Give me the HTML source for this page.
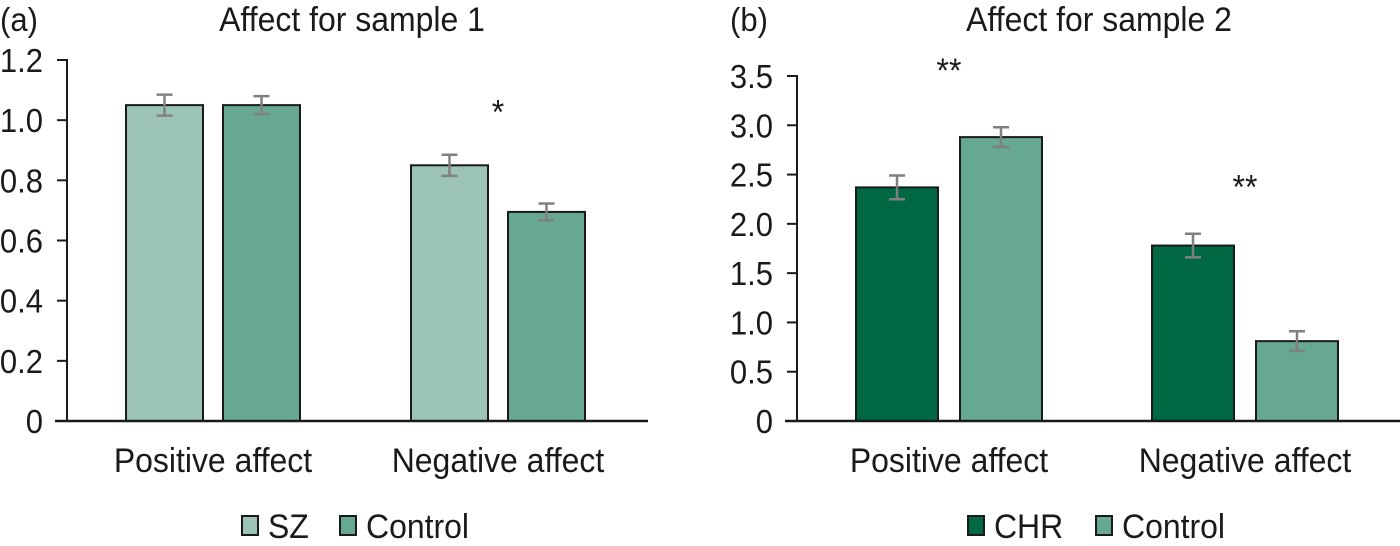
<!DOCTYPE html>
<html><head><meta charset="utf-8"><style>
html,body{margin:0;padding:0;background:#fff;}
svg{display:block;font-family:"Liberation Sans",sans-serif;}
</style></head><body>
<svg id="chart" width="1400" height="546" viewBox="0 0 1400 546"></svg>
<script>
const categories = ["Positive affect", "Negative affect"];
const seriesA = ["SZ", "Control"];
const valuesA_SZ = [1.05, 0.85];
const valuesA_Control = [1.05, 0.695];
const errA_SZ = [0.035, 0.035];
const errA_Control = [0.03, 0.028];
const ticksA = [0, 0.2, 0.4, 0.6, 0.8, 1.0, 1.2];
const tickLabelsA = ["0", "0.2", "0.4", "0.6", "0.8", "1.0", "1.2"];
const sigA = ["", "*"];

const seriesB = ["CHR", "Control"];
const valuesB_CHR = [2.37, 1.78];
const valuesB_Control = [2.88, 0.81];
const errB_CHR = [0.12, 0.12];
const errB_Control = [0.1, 0.1];
const ticksB = [0, 0.5, 1.0, 1.5, 2.0, 2.5, 3.0, 3.5];
const tickLabelsB = ["0", "0.5", "1.0", "1.5", "2.0", "2.5", "3.0", "3.5"];
const sigB = ["**", "**"];

const svg = document.getElementById('chart');
const NS = 'http://www.w3.org/2000/svg';
const SX = 0.94;
function mk(tag, attrs, parent) {
  const e = document.createElementNS(NS, tag);
  for (const k in attrs) e.setAttribute(k, attrs[k]);
  (parent || svg).appendChild(e);
  return e;
}
function txt(x, y, s, size, anchor, parent) {
  const t = mk('text', {x: x / SX, y: y, 'font-size': size, 'text-anchor': anchor, fill: '#1a1a1a', transform: `scale(${SX},1)`}, parent);
  t.textContent = s;
  return t;
}

function panel(cfg) {
  const g = mk('g', {});
  
  
  const y = v => cfg.y0 - (v / cfg.max) * (cfg.y0 - cfg.yTop);
  const lt = txt(cfg.letterX, 31, cfg.letter, 33, 'start', g);
  
  
  const tt = txt(cfg.titleX, 31, cfg.title, 34, 'middle', g);
  
  
  cfg.groupStarts.forEach((gx, i) => {
    [[cfg.v1, cfg.e1, cfg.c1, cfg.s[0]], [cfg.v2, cfg.e2, cfg.c2, cfg.s[1]]].forEach((sd, j) => {
      const x = gx + j * (cfg.barW + cfg.gap);
      const v = sd[0][i];
      const r = mk('rect', {x: x, y: y(v), width: cfg.barW, height: cfg.y0 - y(v), fill: sd[2], stroke: '#1a1a1a', 'stroke-width': 2}, g);
      
      
      const cx = x + cfg.barW / 2, e = sd[1][i];
      const eb = mk('path', {d: `M${cx},${y(v + e)}V${y(v - e)}M${cx - 8},${y(v + e)}H${cx + 8}M${cx - 8},${y(v - e)}H${cx + 8}`, stroke: '#808080', 'stroke-width': 2.5, fill: 'none'}, g);
      
      
    });
    const catC = gx + cfg.barW + cfg.gap / 2;
    const cl = txt(catC, 472, categories[i], 34, 'middle', g);
    
    
    if (cfg.sig[i]) {
      const top = Math.max(cfg.v1[i] + cfg.e1[i], cfg.v2[i] + cfg.e2[i]);
      const st = txt(catC, y(top) - cfg.sigOff[i] + 20, cfg.sig[i], 34, 'middle', g);
      
      
    }
  });
  const ya = mk('line', {x1: cfg.axX, y1: cfg.yTop - 1, x2: cfg.axX, y2: cfg.y0, stroke: '#1a1a1a', 'stroke-width': 2}, g);
  
  
  const xa = mk('line', {x1: cfg.xStart, y1: cfg.y0, x2: cfg.xEnd, y2: cfg.y0, stroke: '#1a1a1a', 'stroke-width': 2.5}, g);
  
  
  cfg.ticks.forEach((t, i) => {
    const tk = mk('line', {x1: cfg.axX - 10, y1: y(t), x2: cfg.axX, y2: y(t), stroke: '#1a1a1a', 'stroke-width': 2}, g);
    
    
    const tl = txt(cfg.axX - 24, y(t) + 12, cfg.tickLabels[i], 33, 'end', g);
    
    
  });
  cfg.legend.forEach((L, i) => {
    const lg = mk('g', {}, g);
    
    
    mk('rect', {x: L.x, y: 516, width: 16, height: 19, fill: L.c, stroke: '#1a1a1a', 'stroke-width': 2}, lg);
    txt(L.x + 26, 538, L.label, 34, 'start', lg);
  });
}

panel({name: 'panel-a', letter: '(a)', letterX: 0, title: 'Affect for sample 1', titleX: 352,
  axX: 67, y0: 421, yTop: 60, max: 1.2, xStart: 55, xEnd: 648,
  groupStarts: [126, 411], barW: 77, gap: 20,
  v1: valuesA_SZ, v2: valuesA_Control, e1: errA_SZ, e2: errA_Control,
  c1: '#9cc4b5', c2: '#67a890', s: seriesA, sig: sigA, sigOff: [0, 51],
  ticks: ticksA, tickLabels: tickLabelsA,
  legend: [{x: 242, c: '#9cc4b5', label: 'SZ'}, {x: 340, c: '#67a890', label: 'Control'}]});

panel({name: 'panel-b', letter: '(b)', letterX: 730, title: 'Affect for sample 2', titleX: 1099,
  axX: 797, y0: 421, yTop: 76, max: 3.5, xStart: 785, xEnd: 1400,
  groupStarts: [856, 1152], barW: 82, gap: 22,
  v1: valuesB_CHR, v2: valuesB_Control, e1: errB_CHR, e2: errB_Control,
  c1: '#006843', c2: '#67a890', s: seriesB, sig: sigB, sigOff: [65, 55],
  ticks: ticksB, tickLabels: tickLabelsB,
  legend: [{x: 968, c: '#006843', label: 'CHR'}, {x: 1096, c: '#67a890', label: 'Control'}]});
</script>
</body></html>
